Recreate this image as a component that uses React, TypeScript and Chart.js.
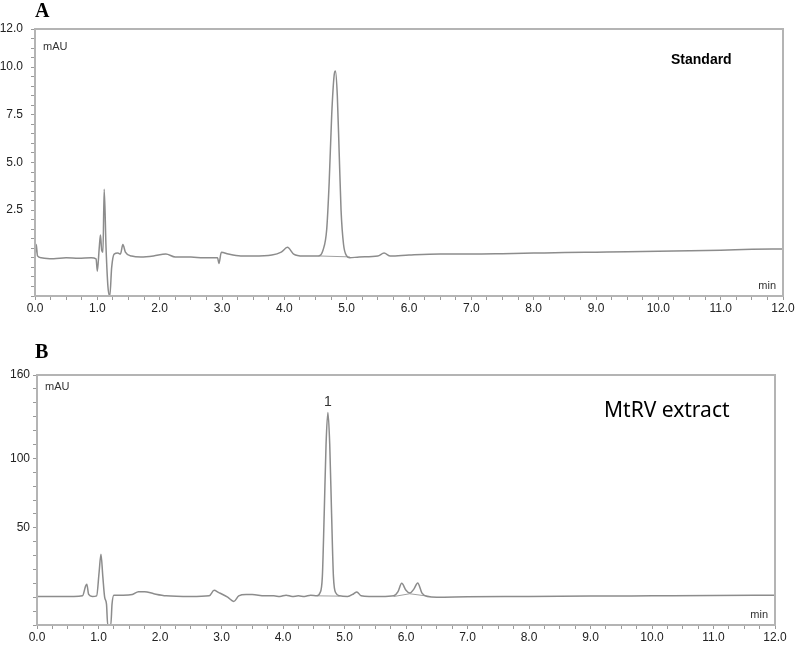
import React, { useEffect, useRef } from "react";
import { Chart, registerables } from "chart.js";

Chart.register(...registerables);

// ---------- Panel A (Standard) ----------
const timeA = [
  0.0, 0.02, 0.04, 0.1, 0.3, 0.5, 0.7, 0.9, 0.98, 1.0, 1.03, 1.05, 1.07, 1.09, 1.11, 1.14, 1.17, 1.2, 1.23,
  1.27, 1.33, 1.37, 1.41, 1.45, 1.55, 1.7, 1.9, 2.1, 2.25, 2.5, 2.7, 2.93, 2.95, 2.99, 3.1, 3.3, 3.5, 3.8,
  3.95, 4.05, 4.15, 4.3, 4.55, 4.62, 4.68, 4.72, 4.76, 4.8, 4.82, 4.85, 4.88, 4.91, 4.95, 5.0, 5.05, 5.2,
  5.5, 5.6, 5.7, 6.0, 6.5, 7.0, 7.5, 8.0, 8.5, 9.0, 9.5, 10.0, 10.5, 11.0, 11.5, 12.0,
];
const mauA = [
  0.05, 0.7, 0.1, 0.0, -0.05, 0.0, -0.02, 0.0, -0.05, -0.7, 0.5, 1.2, 0.4, 0.3, 3.6, 0.5, -1.5, -2.0, -0.5,
  0.2, 0.25, 0.2, 0.7, 0.3, 0.1, 0.05, 0.1, 0.2, 0.05, 0.05, 0.0, 0.0, -0.3, 0.3, 0.2, 0.1, 0.1, 0.15,
  0.3, 0.55, 0.2, 0.1, 0.1, 0.4, 1.5, 4.0, 7.5, 9.6, 9.8, 8.5, 5.5, 2.5, 0.7, 0.1, 0.0, 0.05,
  0.1, 0.25, 0.1, 0.15, 0.2, 0.2, 0.22, 0.25, 0.28, 0.3, 0.32, 0.35, 0.37, 0.4, 0.45, 0.47,
];
const baseTimeA = [4.55, 5.05];
const baseMauA = [0.1, 0.05];
const yLabelsA = [2.5, 5, 7.5, 10, 12];

// ---------- Panel B (MtRV extract) ----------
const timeB = [
  0.0, 0.3, 0.6, 0.74, 0.79, 0.81, 0.84, 0.9, 0.97, 1.01, 1.04, 1.07, 1.1, 1.13, 1.15, 1.2, 1.22, 1.25, 1.4,
  1.55, 1.65, 1.75, 1.9, 2.1, 2.5, 2.8, 2.88, 2.95, 3.1, 3.2, 3.28, 3.4, 3.5, 3.7, 3.85, 3.95, 4.05, 4.15,
  4.25, 4.35, 4.45, 4.55, 4.6, 4.64, 4.67, 4.7, 4.73, 4.76, 4.79, 4.82, 4.86, 4.92, 5.05, 5.15, 5.2, 5.27,
  5.4, 5.6, 5.8, 5.87, 5.93, 6.0, 6.06, 6.13, 6.19, 6.26, 6.35, 6.5, 7.0, 8.0, 9.0, 10.0, 11.0, 12.0,
];
const mauB = [
  0.5, 0.5, 0.5, 1, 8, 9.4, 2, 0.5, 1, 18, 31, 15, 0, -5, -20, -20, -5, 1.5, 1.5,
  2, 4, 4, 2.5, 1, 0.5, 1, 5, 3.5, 0, -3, 1, 2, 2, 1, 1, 0.5, 1.5, 0.5,
  1, 0.5, 1.5, 1, 3, 15, 60, 110, 133, 110, 60, 15, 3, 1, 0.5, 2.5, 3.8, 1,
  0.5, 0.5, 1, 4, 10, 5, 3, 6, 10.3, 3, 0.5, 0, 0.3, 0.5, 0.8, 1, 1.2, 1.5,
];
const baseTimeB = [4.55, 4.92, null, 5.8, 6.06, 6.4];
const baseMauB = [1, 0.8, null, 0.5, 2.5, 0.5];
const yLabelsB = [50, 100, 160];
const peakLabelB = "1";
const peakTimeB = 4.73;
const peakMauB = 133;

const FONT = "'Liberation Sans', Arial, sans-serif";

function pts(xs: (number | null)[], ys: (number | null)[]) {
  return xs.map((x, i) => (x === null ? { x: NaN, y: NaN } : { x: x as number, y: ys[i] as number }));
}

const framePlugin = {
  id: "frame",
  afterDatasetsDraw(chart: any) {
    const { ctx, chartArea: a } = chart;
    ctx.save();
    ctx.strokeStyle = "#b4b4b4";
    ctx.lineWidth = 2;
    ctx.strokeRect(a.left, a.top, a.right - a.left, a.bottom - a.top);
    ctx.restore();
  },
};

function makeTextPlugin(cfg: {
  letter: string;
  letterY: number;
  mauDy: number;
  minDy: number;
  label: string;
  labelFont: string;
  labelX: number;
  labelY: number;
  peak?: { t: number; v: number; text: string };
}) {
  return {
    id: "texts",
    afterDraw(chart: any) {
      const { ctx, chartArea: a, scales } = chart;
      ctx.save();
      ctx.fillStyle = "#000";
      ctx.textBaseline = "alphabetic";
      ctx.textAlign = "left";
      ctx.font = "bold 20px 'Liberation Serif', 'Times New Roman', serif";
      ctx.fillText(cfg.letter, 35, cfg.letterY);

      ctx.fillStyle = "#333";
      ctx.font = `11px ${FONT}`;
      ctx.textBaseline = "middle";
      ctx.fillText("mAU", a.left + 8, a.top + cfg.mauDy);
      ctx.textAlign = "right";
      ctx.fillText("min", a.right - 7, a.bottom - cfg.minDy);

      ctx.fillStyle = "#000";
      ctx.textAlign = "left";
      ctx.font = cfg.labelFont;
      ctx.fillText(cfg.label, cfg.labelX, cfg.labelY);

      if (cfg.peak) {
        const px = scales.x.getPixelForValue(cfg.peak.t);
        const py = scales.y.getPixelForValue(cfg.peak.v);
        ctx.font = `14px ${FONT}`;
        ctx.fillStyle = "#333";
        ctx.textAlign = "center";
        ctx.textBaseline = "bottom";
        ctx.fillText(cfg.peak.text, px, py - 3);
      }
      ctx.restore();
    },
  };
}

function buildConfig(opts: {
  data: { x: number; y: number }[];
  base: { x: number; y: number }[];
  yMin: number;
  yMax: number;
  yStep: number;
  yLabels: number[];
  yFmt: (v: number) => string;
  yPad: number;
  padding: { top: number; right: number; left: number; bottom: number };
  xHeight: number;
  plugin: any;
}) {
  return {
    type: "line",
    data: {
      datasets: [
        {
          data: opts.data,
          borderColor: "#8c8c8c",
          borderWidth: 1.5,
          pointRadius: 0,
          cubicInterpolationMode: "monotone",
          fill: false,
        },
        {
          data: opts.base,
          borderColor: "#a0a0a0",
          borderWidth: 1,
          pointRadius: 0,
          spanGaps: false,
          fill: false,
        },
      ],
    },
    options: {
      responsive: false,
      animation: false,
      events: [],
      layout: { padding: opts.padding },
      plugins: { legend: { display: false }, tooltip: { enabled: false }, title: { display: false } },
      scales: {
        x: {
          type: "linear",
          min: 0,
          max: 12,
          afterFit: (s: any) => {
            s.height = opts.xHeight;
          },
          ticks: {
            stepSize: 0.25,
            autoSkip: false,
            maxRotation: 0,
            padding: 1,
            color: "#222",
            font: { family: FONT, size: 12 },
            callback: (v: any) => (Math.abs(v - Math.round(v)) < 1e-6 ? Number(v).toFixed(1) : ""),
          },
          grid: { drawOnChartArea: false, drawTicks: true, tickLength: 4, color: "#9a9a9a" },
          border: { display: true, color: "#b4b4b4", width: 2 },
        },
        y: {
          type: "linear",
          min: opts.yMin,
          max: opts.yMax,
          afterFit: (s: any) => {
            s.width = 35;
          },
          ticks: {
            stepSize: opts.yStep,
            autoSkip: false,
            padding: opts.yPad,
            color: "#222",
            font: { family: FONT, size: 12 },
            callback: (v: any) => (opts.yLabels.some((l) => Math.abs(l - v) < 1e-6) ? opts.yFmt(Number(v)) : ""),
          },
          grid: { drawOnChartArea: false, drawTicks: true, tickLength: 4, color: "#9a9a9a" },
          border: { display: true, color: "#b4b4b4", width: 2 },
        },
      },
    },
    plugins: [framePlugin, opts.plugin],
  } as any;
}

export default function App() {
  const refA = useRef<HTMLCanvasElement>(null);
  const refB = useRef<HTMLCanvasElement>(null);

  useEffect(() => {
    const chartA = new Chart(
      refA.current as HTMLCanvasElement,
      buildConfig({
        data: pts(timeA, mauA),
        base: pts(baseTimeA, baseMauA),
        yMin: -2,
        yMax: 12,
        yStep: 0.5,
        yLabels: yLabelsA,
        yFmt: (v) => v.toFixed(1),
        yPad: 8,
        padding: { top: 29, right: 13, left: 0, bottom: 0 },
        xHeight: 24,
        plugin: makeTextPlugin({
          letter: "A",
          letterY: 17,
          mauDy: 18,
          minDy: 10,
          label: "Standard",
          labelFont: `bold 14px ${FONT}`,
          labelX: 671,
          labelY: 60,
        }),
      })
    );
    const chartB = new Chart(
      refB.current as HTMLCanvasElement,
      buildConfig({
        data: pts(timeB, mauB),
        base: pts(baseTimeB, baseMauB),
        yMin: -20,
        yMax: 160,
        yStep: 10,
        yLabels: yLabelsB,
        yFmt: (v) => String(v),
        yPad: 3,
        padding: { top: 55, right: 21, left: 2, bottom: 0 },
        xHeight: 23,
        plugin: makeTextPlugin({
          letter: "B",
          letterY: 38,
          mauDy: 12,
          minDy: 10,
          label: "MtRV extract",
          labelFont: "21px 'Noto Sans', 'Open Sans', sans-serif",
          labelX: 604,
          labelY: 91,
          peak: { t: peakTimeB, v: peakMauB, text: peakLabelB },
        }),
      })
    );
    return () => {
      chartA.destroy();
      chartB.destroy();
    };
  }, []);

  return (
    <div style={{ position: "absolute", left: 0, top: 0, width: 796, height: 648, background: "#fff" }}>
      <canvas ref={refA} width={796} height={320} style={{ position: "absolute", left: 0, top: 0 }} />
      <canvas ref={refB} width={796} height={328} style={{ position: "absolute", left: 0, top: 320 }} />
    </div>
  );
}
